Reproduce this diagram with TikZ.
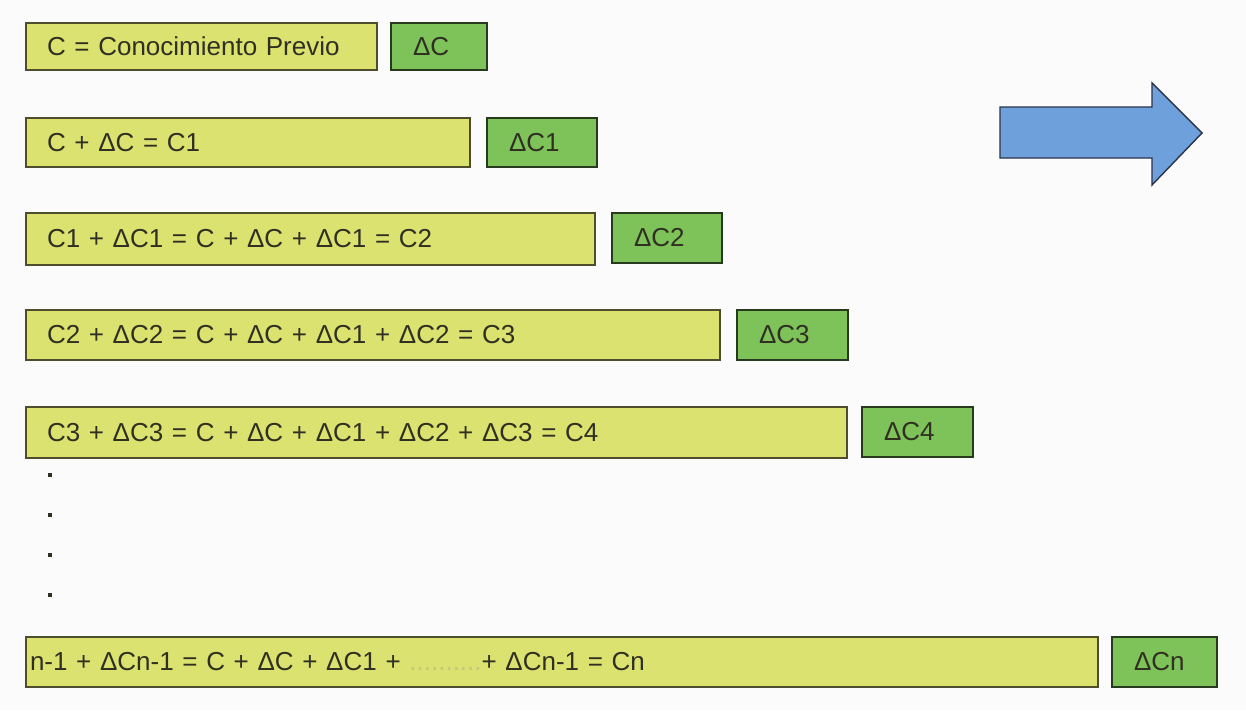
\documentclass[tikz,border=0pt]{standalone}
\usepackage{fontspec}
\setmainfont{Liberation Sans}
\definecolor{paper}{RGB}{251,251,251}
\definecolor{yfill}{RGB}{219,226,112}
\definecolor{gfill}{RGB}{126,194,90}
\definecolor{yedge}{RGB}{78,78,44}
\definecolor{gedge}{RGB}{40,58,30}
\definecolor{ink}{RGB}{48,48,34}
\definecolor{afill}{RGB}{110,160,220}
\definecolor{aedge}{RGB}{42,52,72}
\definecolor{faint}{RGB}{200,196,120}
\begin{document}
\begin{tikzpicture}[x=1pt,y=-1pt,
  box/.style={rectangle,anchor=north west,inner ysep=0pt,outer sep=0pt,
    align=left,text=ink,font=\fontsize{26}{30}\selectfont,line width=1.6pt},
  ybox/.style={box,fill=yfill,draw=yedge,inner xsep=21pt},
  nbox/.style={box,fill=yfill,draw=yedge,inner xsep=4pt},
  gbox/.style={box,fill=gfill,draw=gedge,inner xsep=22pt},
  dotmark/.style={rectangle,fill=ink,minimum size=4pt,inner sep=0pt},
  bigarrow/.style={fill=afill,draw=aedge,line width=1.4pt,line join=miter}]
\useasboundingbox (0,0) rectangle (1246,710);
\fill[paper] (0,0) rectangle (1246,710);

% knowledge rows: accumulated knowledge (yellow) and its increment (green)
\node[ybox,text width=309pt,minimum height=47pt] (y0) at (26,23) {C = Conocimiento Previo};
\node[gbox,text width=52pt,minimum height=47pt] (g0) at (391,23) {ΔC};

\node[ybox,text width=402pt,minimum height=49pt] (y1) at (26,118) {C + ΔC = C1};
\node[gbox,text width=66pt,minimum height=49pt] (g1) at (487,118) {ΔC1};

\node[ybox,text width=527pt,minimum height=52pt] (y2) at (26,213) {C1 + ΔC1 = C + ΔC + ΔC1 = C2};
\node[gbox,text width=66pt,minimum height=50pt] (g2) at (612,213) {ΔC2};

\node[ybox,text width=652pt,minimum height=50pt] (y3) at (26,310) {C2 + ΔC2 = C + ΔC + ΔC1 + ΔC2 = C3};
\node[gbox,text width=67pt,minimum height=50pt] (g3) at (737,310) {ΔC3};

\node[ybox,text width=779pt,minimum height=51pt] (y4) at (26,407) {C3 + ΔC3 = C + ΔC + ΔC1 + ΔC2 + ΔC3 = C4};
\node[gbox,text width=67pt,minimum height=50pt] (g4) at (862,407) {ΔC4};

% vertical ellipsis
\node[dotmark] (d1) at (50,475) {};
\node[dotmark] (d2) at (50,515) {};
\node[dotmark] (d3) at (50,555) {};
\node[dotmark] (d4) at (50,595) {};

\node[nbox,text width=1064pt,minimum height=50pt] (yn) at (26,637) {n-1 + ΔCn-1 = C + ΔC + ΔC1 + {\color{faint}..........}+ ΔCn-1 = Cn};
\node[gbox,text width=61pt,minimum height=50pt] (gn) at (1112,637) {ΔCn};

% block arrow
\draw[bigarrow] (1000,107) -- (1152,107) -- (1152,83) -- (1202,133)
  -- (1152,185) -- (1152,158) -- (1000,158) -- cycle;
\end{tikzpicture}
\end{document}
